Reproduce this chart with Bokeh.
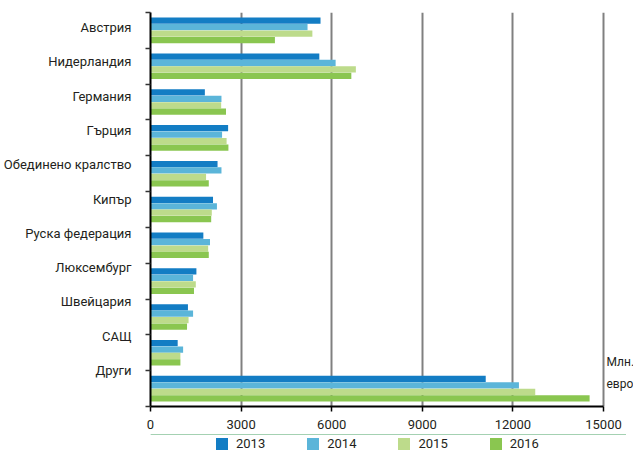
from bokeh.plotting import figure
from bokeh.layouts import column
from bokeh.models import Range1d, FixedTicker, Legend, LegendItem, Label
from bokeh.embed import file_html
from bokeh.resources import INLINE

countries = ["Австрия", "Нидерландия", "Германия", "Гърция", "Обединено кралство",
             "Кипър", "Руска федерация", "Люксембург", "Швейцария", "САЩ", "Други"]
years = ["2013", "2014", "2015", "2016"]
v2013 = [5630, 5590, 1800, 2570, 2220, 2070, 1750, 1520, 1240, 900, 11100]
v2014 = [5200, 6130, 2350, 2370, 2350, 2200, 1970, 1410, 1410, 1080, 12200]
v2015 = [5360, 6800, 2340, 2520, 1840, 2030, 1910, 1500, 1260, 990, 12740]
v2016 = [4120, 6650, 2500, 2580, 1930, 2010, 1930, 1440, 1210, 990, 14540]
x_ticks = [0, 3000, 6000, 9000, 12000, 15000]
unit_label = ["Млн.", "евро"]

colors = ["#137dc4", "#5bb5d9", "#bddb8b", "#8ac650"]
FONT = "Roboto"
FS = "13px"
TXT = "#231f20"

n = len(countries)
BAND = 100
SLOT = 18
X_MAX = x_ticks[-1]

# frame extends past the data area so the unit label on the right stays visible
DATA_W = 453
FRAME_W = 483
x_end = X_MAX * FRAME_W / DATA_W

p = figure(frame_width=FRAME_W, frame_height=394, x_range=Range1d(0, x_end),
           y_range=Range1d(n * BAND, 0),
           output_backend="svg", toolbar_location=None,
           min_border_left=143, min_border_right=0, min_border_top=12, min_border_bottom=28)
p.outline_line_color = None

renderers = []
for k, vals in enumerate([v2013, v2014, v2015, v2016]):
    ys = [BAND * i + BAND / 2 + (k - 1.5) * SLOT for i in range(n)]
    r = p.hbar(y=ys, left=0, right=vals, height=SLOT - 0.5, fill_color=colors[k], line_color=None)
    renderers.append(r)

# x axis
p.xaxis.ticker = FixedTicker(ticks=x_ticks)
p.xaxis.bounds = (0, X_MAX)
p.xaxis.major_tick_out = 5
p.xaxis.major_tick_in = 0
p.xaxis.minor_tick_line_color = None
p.xaxis.axis_line_width = 2
p.xaxis.axis_line_color = "#000000"
p.xaxis.major_tick_line_color = "#000000"
p.xaxis.major_tick_line_width = 1.5
p.xaxis.major_label_text_font = FONT
p.xaxis.major_label_text_font_size = FS
p.xaxis.major_label_text_color = TXT
p.xaxis.major_label_standoff = 8

p.xgrid.ticker = FixedTicker(ticks=x_ticks)
p.xgrid.grid_line_color = "#808080"
p.xgrid.grid_line_width = 2
p.ygrid.visible = False

# y axis: labels drift slightly relative to bands, ticks at band boundaries
label_pos = [round(BAND * i + 42 - 4.2 * i) for i in range(n)]
p.yaxis.ticker = FixedTicker(ticks=label_pos, minor_ticks=[BAND * i for i in range(n + 1)])
p.yaxis.major_label_overrides = {pos: name for pos, name in zip(label_pos, countries)}
p.yaxis.major_tick_line_color = None
p.yaxis.major_tick_out = 0
p.yaxis.major_tick_in = 0
p.yaxis.minor_tick_line_color = "#333333"
p.yaxis.minor_tick_line_width = 1.5
p.yaxis.minor_tick_out = 5
p.yaxis.minor_tick_in = 0
p.yaxis.axis_line_width = 2
p.yaxis.axis_line_color = "#000000"
p.yaxis.major_label_text_font = FONT
p.yaxis.major_label_text_font_size = FS
p.yaxis.major_label_text_color = TXT
p.yaxis.major_label_standoff = 14

for txt, yy in zip(unit_label, [977, 1036]):
    p.add_layout(Label(x=X_MAX, y=yy, x_offset=3, text=txt, text_baseline="middle",
                       text_font=FONT, text_font_size="12px", text_color=TXT))

# legend strip below the chart (hidden swatch renderers sit outside its range)
p2 = figure(width=626, height=18, x_range=Range1d(0, 1), y_range=Range1d(0, 1),
            output_backend="svg", toolbar_location=None, min_border=0,
            x_axis_type=None, y_axis_type=None)
p2.outline_line_color = None
p2.grid.visible = False
swatches = [p2.hbar(y=[5], left=[0], right=[1], height=0.5, fill_color=c, line_color=None)
            for c in colors]
legend = Legend(items=[LegendItem(label=y, renderers=[r]) for y, r in zip(years, swatches)],
                orientation="horizontal", location=(64, 1), spacing=40, label_standoff=7,
                glyph_width=15, glyph_height=15, label_height=15, padding=0, margin=0,
                border_line_color=None, background_fill_alpha=0,
                label_text_font=FONT, label_text_font_size=FS, label_text_color=TXT)
p2.add_layout(legend)

layout = column(p, p2, spacing=0)
open("out.html", "w").write(file_html(layout, INLINE))
